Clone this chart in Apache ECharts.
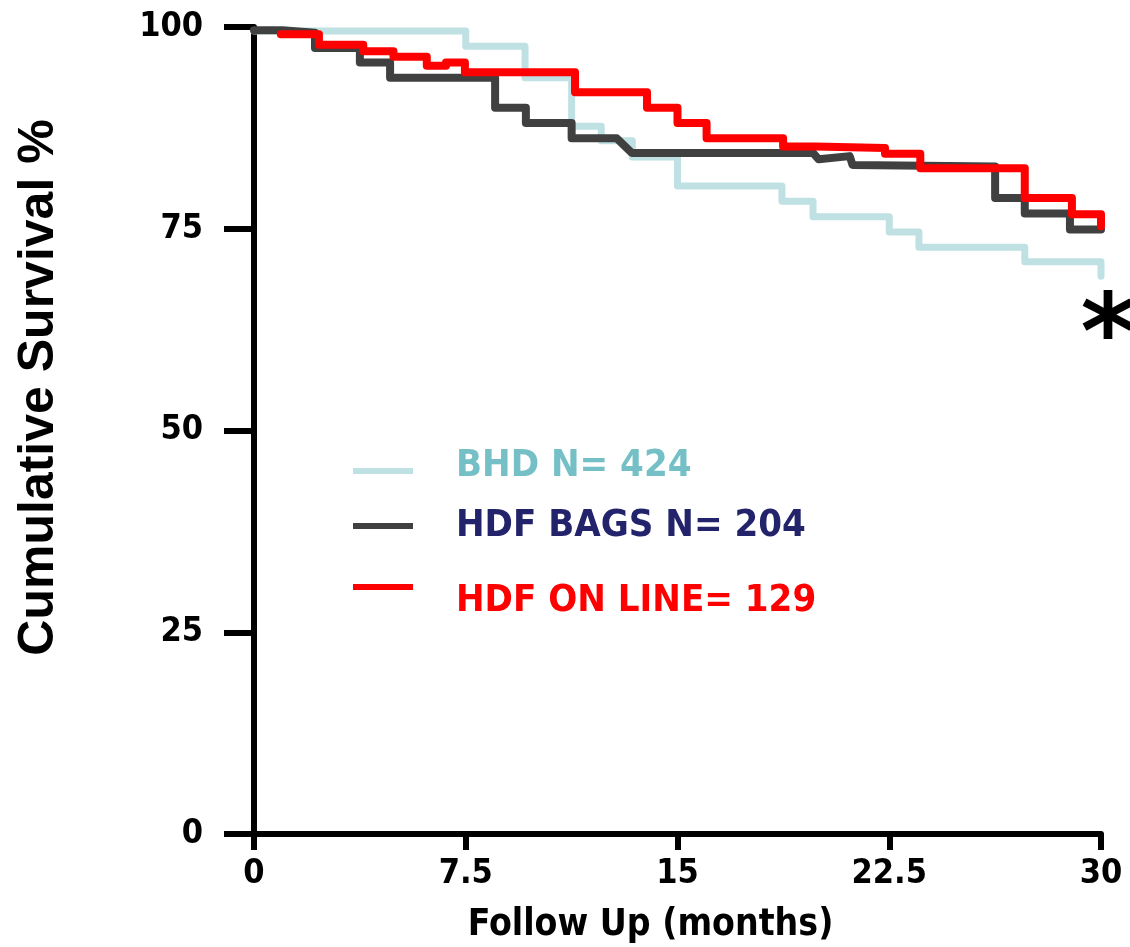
<!DOCTYPE html>
<html>
<head>
<meta charset="utf-8">
<script src="https://cdn.jsdelivr.net/npm/echarts@6/dist/echarts.min.js"></script>
<style>
html,body{margin:0;padding:0;background:#fff;}
#chart{width:1130px;height:947px;}
</style>
</head>
<body>
<div id="chart"></div>
<script>
// ---- data (months, cumulative survival %) ----
const seriesNames = ['BHD N= 424', 'HDF BAGS N= 204', 'HDF ON LINE= 129'];
// BHD: Kaplan-Meier steps (time of event, survival after event)
const bhdTimes  = [0, 7.5, 9.6, 11.25, 12.3, 13.4, 15.0, 18.7, 19.8, 22.5, 23.55, 27.3, 30];
const bhdValues = [99.5, 97.6, 93.7, 87.7, 85.9, 83.9, 80.3, 78.4, 76.5, 74.6, 72.7, 70.9, 69.1];
// HDF BAGS: curve vertices as drawn (includes the slanted segments)
const bagsTimes  = [0, 1.0, 2.16, 2.16, 3.75, 3.75, 4.82, 4.82, 8.54, 8.54, 9.63, 9.63, 11.25, 11.25, 12.85, 13.38, 19.8, 20.0, 21.1, 21.2, 26.25, 26.25, 27.3, 27.3, 28.9, 28.9, 30];
const bagsValues = [99.6, 99.6, 99.3, 97.4, 97.4, 95.6, 95.6, 93.7, 93.7, 90.0, 90.0, 88.1, 88.1, 86.2, 86.2, 84.4, 84.4, 83.6, 84.0, 82.9, 82.7, 78.8, 78.8, 76.9, 76.9, 74.9, 74.9];
// HDF ON LINE: Kaplan-Meier steps
const onlineTimes  = [0.95, 2.3, 3.87, 4.94, 6.12, 6.8, 7.47, 11.37, 13.92, 15.0, 16.03, 18.74, 19.87, 22.35, 23.6, 27.3, 28.97, 30];
const onlineValues = [99.1, 97.8, 97.0, 96.3, 95.2, 95.6, 94.4, 91.9, 90.0, 88.1, 86.2, 85.2, 85.0, 84.3, 82.5, 78.8, 76.8, 75.3];
const xTicks = [0, 7.5, 15, 22.5, 30];
const yTicks = [0, 25, 50, 75, 100];

const lineColors = ['#bfe1e4', '#404040', '#ff0000'];
const textColors = ['#74c0c6', '#23236b', '#ff0000'];

function pairs(t, v) { return t.map((x, i) => [x, v[i]]); }

const chart = echarts.init(document.getElementById('chart'));
const condFont = '"DejaVu Sans Condensed", "DejaVu Sans"';

const legendLineY = [471, 526, 587];
const legendTextY = [466, 526, 601];
const graphics = [];
seriesNames.forEach((n, i) => {
  graphics.push({
    type: 'line', shape: {x1: 353, y1: legendLineY[i], x2: 413, y2: legendLineY[i]},
    style: {stroke: lineColors[i], lineWidth: 6}
  });
  graphics.push({
    type: 'text', x: 456, y: legendTextY[i],
    style: {text: n, fill: textColors[i], font: 'bold 38px ' + condFont, textVerticalAlign: 'middle'}
  });
});
graphics.push({
  type: 'text', x: 1108, y: 341,
  style: {text: '*', fill: '#000', font: 'bold 105px "DejaVu Sans"', textAlign: 'center', textVerticalAlign: 'middle'}
});

const option = {
  animation: false,
  backgroundColor: '#fff',
  grid: {left: 254, right: 29, top: 27, bottom: 113, containLabel: false, outerBoundsMode: 'none'},
  xAxis: {
    type: 'value', min: 0, max: 30, interval: 7.5,
    name: 'Follow Up (months)', nameLocation: 'middle', nameGap: 73,
    nameTextStyle: {fontFamily: condFont, fontWeight: 'bold', fontSize: 37, color: '#000', padding: [0, 54, 0, 0]},
    axisLine: {show: true, lineStyle: {color: '#000', width: 6}},
    axisTick: {show: true, length: 16, lineStyle: {color: '#000', width: 6}},
    axisLabel: {margin: 23, fontFamily: condFont, fontWeight: 'bold', fontSize: 34, color: '#000',
      formatter: v => { const t = xTicks.find(x => Math.abs(x - v) < 1e-6); return t === undefined ? '' : String(t); }},
    splitLine: {show: false}
  },
  yAxis: {
    type: 'value', min: 0, max: 100, interval: 25,
    name: 'Cumulative Survival %', nameLocation: 'middle', nameGap: 190,
    nameTextStyle: {fontFamily: 'Liberation Sans', fontWeight: 'bold', fontSize: 50, color: '#000', padding: [0, 0, 0, 86]},
    axisLine: {show: true, lineStyle: {color: '#000', width: 6}},
    axisTick: {show: true, length: 30, lineStyle: {color: '#000', width: 6}},
    axisLabel: {margin: 51, fontFamily: condFont, fontWeight: 'bold', fontSize: 34, color: '#000',
      formatter: v => { const t = yTicks.find(x => Math.abs(x - v) < 1e-6); return t === undefined ? '' : String(t); }},
    splitLine: {show: false}
  },
  series: [
    {name: seriesNames[0], type: 'line', step: 'end', showSymbol: false, z: 2,
     data: pairs(bhdTimes, bhdValues), lineStyle: {color: lineColors[0], width: 7, join: 'round', cap: 'round'}},
    {name: seriesNames[1], type: 'line', showSymbol: false, z: 3,
     data: pairs(bagsTimes, bagsValues), lineStyle: {color: lineColors[1], width: 8, join: 'round', cap: 'round'}},
    {name: seriesNames[2], type: 'line', step: 'end', showSymbol: false, z: 4,
     data: pairs(onlineTimes, onlineValues), lineStyle: {color: lineColors[2], width: 8, join: 'round', cap: 'round'}}
  ],
  graphic: graphics
};
chart.setOption(option);
</script>
</body>
</html>
